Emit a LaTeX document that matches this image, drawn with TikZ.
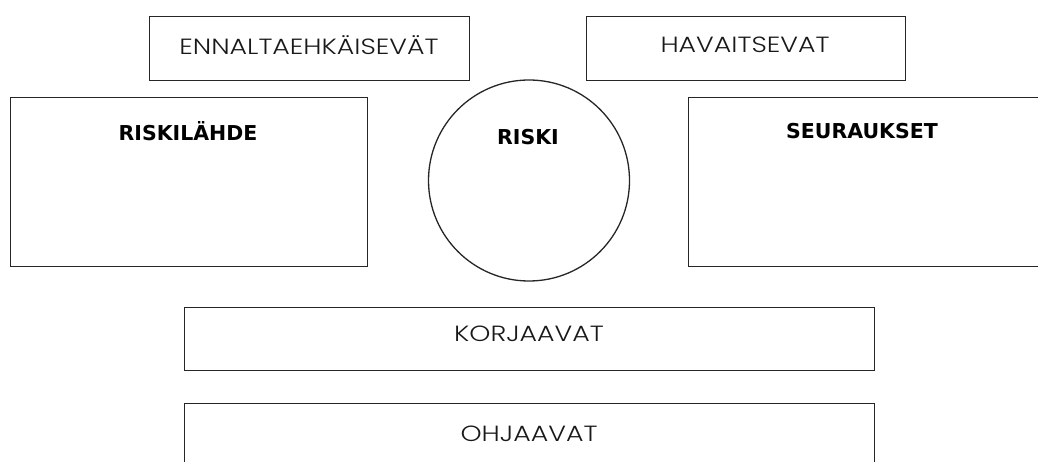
\documentclass[tikz,border=0pt]{standalone}
\usepackage{fontspec}
\newfontfamily\thinfont{Poppins Light}[FakeStretch=1.22]
\newfontfamily\boldfont{DejaVu Sans}[BoldFont={DejaVu Sans Bold}]
\begin{document}
\begin{tikzpicture}[x=1pt,y=-1pt,
  frame/.style={draw=black!85,line width=1.3pt,fill=white,inner sep=0pt,anchor=north west},
  thintext/.style={font=\thinfont\fontsize{22}{25}\selectfont,text=black!90,inner sep=0pt},
  boldtext/.style={font=\boldfont\bfseries\fontsize{20.5}{24}\selectfont,text=black,inner sep=0pt}]
\useasboundingbox (0,0) rectangle (1038,462);
\clip (0,0) rectangle (1038,462);
\node[frame,minimum width=320pt,minimum height=64pt] (ennb) at (149,16) {};
\node[frame,minimum width=319pt,minimum height=64pt] (havb) at (586,16) {};
\node[frame,minimum width=357pt,minimum height=169pt] (riskb) at (10,97) {};
\node[frame,minimum width=360pt,minimum height=169pt] (seub) at (688,97) {};
\node[draw=black!85,line width=1.3pt,fill=white,circle,minimum size=201pt,inner sep=0pt] (risk) at (529,180.5) {};
\node[frame,minimum width=690pt,minimum height=63pt] (korb) at (184,307) {};
\node[frame,minimum width=690pt,minimum height=80pt] (ohjb) at (184,403) {};
\node[thintext] (enn) at (309,45) {ENNALTAEHKÄISEVÄT};
\node[thintext] (hav) at (745,45) {HAVAITSEVAT};
\node[thintext] (kor) at (529,334) {KORJAAVAT};
\node[thintext] (ohj) at (529,434) {OHJAAVAT};
\node[boldtext] (rl) at (188,131) {RISKILÄHDE};
\node[boldtext] (rt) at (528,137) {RISKI};
\node[boldtext] (st) at (862,131) {SEURAUKSET};
\end{tikzpicture}
\end{document}
